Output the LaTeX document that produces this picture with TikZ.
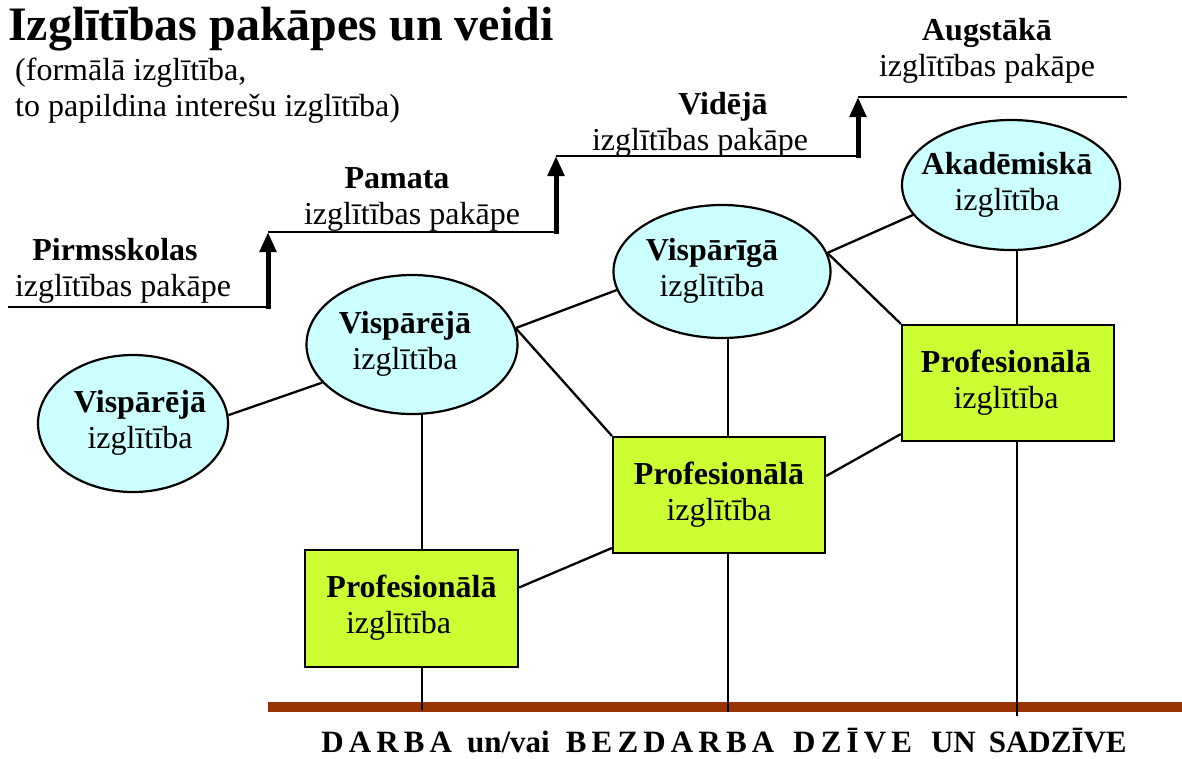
\documentclass[tikz,border=0pt]{standalone}
\usepackage{fontspec}
\setmainfont{Liberation Serif}
\usetikzlibrary{arrows.meta,shapes.geometric}
\definecolor{ellfill}{HTML}{CCFFFF}
\definecolor{boxfill}{HTML}{CCFF33}
\definecolor{barbrown}{HTML}{993300}
% #1 horizontal shift (x2), #2 bold line, #3 regular line, #4 extra right space on line 1, #5 extra right space on line 2
\newcommand{\celltext}[5]{\makebox[0pt]{\hspace*{#1}\begin{tabular}{@{}c@{}}\textbf{#2}\hspace*{#4}\\#3\hspace*{#5}\end{tabular}}}
\begin{document}
\begin{tikzpicture}[x=1pt,y=-1pt,
  font=\fontsize{32}{36}\selectfont,
  ell/.style={ellipse, draw, line width=2.2pt, fill=ellfill, inner sep=0pt},
  pbox/.style={rectangle, draw, line width=2.2pt, fill=boxfill, minimum width=213pt, minimum height=117pt, inner sep=0pt},
  link/.style={line width=2.3pt},
  stepline/.style={line width=2.7pt},
  steparrow/.style={line width=5pt, -{Triangle[width=16pt,length=20pt]}},
  steplab/.style={inner sep=0pt, anchor=center},
]
\useasboundingbox (0,0) rectangle (1182,758);

% title
\node[anchor=base west, inner sep=0pt, font=\fontsize{48}{52}\selectfont\bfseries] (title) at (8,40) {Izglītības pakāpes un veidi};
\node[anchor=base west, inner sep=0pt] (subtitle) at (15,80) {\begin{tabular}[t]{@{}l@{}}(formālā izglītība,\\to papildina interešu izglītība)\end{tabular}};

% stairs
\coordinate (a0) at (8,307);
\coordinate (a1) at (268,308.5);
\coordinate (b0) at (268,232);
\coordinate (b1) at (556,232);
\coordinate (b2) at (556,233.5);
\coordinate (c0) at (556,156);
\coordinate (c1) at (858,156);
\coordinate (c2) at (858,157.5);
\coordinate (d0) at (858,97);
\coordinate (d1) at (1127,97);
\draw[stepline] (a0) -- (a0 -| a1);
\draw[steparrow] (a1) -- (b0);
\draw[stepline] (b0) -- (b1);
\draw[steparrow] (b2) -- (c0);
\draw[stepline] (c0) -- (c1);
\draw[steparrow] (c2) -- (d0);
\draw[stepline] (d0) -- (d1);

\node[steplab] (l1) at (123,271) {\celltext{0pt}{Pirmsskolas}{izglītības pakāpe}{16pt}{0pt}};
\node[steplab] (l2) at (412,199) {\celltext{0pt}{Pamata}{izglītības pakāpe}{30pt}{0pt}};
\node[steplab] (l3) at (700,125) {\celltext{0pt}{Vidējā}{izglītības pakāpe}{-46pt}{0pt}};
\node[steplab] (l4) at (987,51) {\celltext{0pt}{Augstākā}{izglītības pakāpe}{0pt}{0pt}};

% ellipses
\node[ell, minimum width=190pt, minimum height=137pt] (e1) at (133,423.5) {\celltext{14pt}{Vispārējā}{izglītība}{0pt}{0pt}};
\node[ell, minimum width=211pt, minimum height=139pt] (e2) at (412,344.5) {\celltext{-14pt}{Vispārējā}{izglītība}{0pt}{0pt}};
\node[ell, minimum width=217pt, minimum height=133pt] (e3) at (722,271.5) {\celltext{-20pt}{Vispārīgā}{izglītība}{0pt}{0pt}};
\node[ell, minimum width=218pt, minimum height=130pt] (e4) at (1011,185) {\celltext{-8pt}{Akadēmiskā}{izglītība}{0pt}{0pt}};

% boxes
\node[pbox] (r1) at (411.5,608.5) {\celltext{0pt}{Profesionālā}{izglītība}{0pt}{26pt}};
\node[pbox, minimum width=212pt, minimum height=116pt] (r2) at (719,495) {\celltext{0pt}{Profesionālā}{izglītība}{0pt}{0pt}};
\node[pbox, minimum width=212pt, minimum height=116pt] (r3) at (1008,383) {\celltext{-4pt}{Profesionālā}{izglītība}{0pt}{0pt}};

% ground bar
\fill[barbrown] (268,702) rectangle (1182,712);
\coordinate (g1) at (422,710);
\coordinate (g2) at (728,712);
\coordinate (g3) at (1017,716);

% connectors
\draw[link] (e1.5) -- (e2.203);
\draw[link] (e2.9) -- (e3.190);
\draw[link] (e2.9) -- (r2.north west);
\draw[link] (e3.10) -- (e4.197);
\draw[link] (e3.10) -- (r3.north west);
\draw[link] (e2.south -| g1) -- (r1.north -| g1);
\draw[link] (e3.south -| g2) -- (r2.north -| g2);
\draw[link] (e4.south -| g3) -- (r3.north -| g3);
\draw[link] ([yshift=21pt]r1.east) -- ([yshift=-53pt]r2.west);
\draw[link] ([yshift=19pt]r2.east) -- ([yshift=-51pt]r3.west);
\draw[link] (r1.south -| g1) -- (g1);
\draw[link] (r2.south -| g2) -- (g2);
\draw[link] (r3.south -| g3) -- (g3);

% bottom caption
\node[anchor=base, inner sep=0pt, font=\fontsize{31}{36}\selectfont\bfseries] (caption) at (724,752)
  {D\,A\,R\,B\,A\hspace{15pt}un/vai\hspace{16pt}B\,E\,Z\,D\,A\,R\,B\,A\hspace{19pt}D\,Z\,Ī\,V\,E\hspace{19pt}UN\hspace{13pt}SADZĪVE};
\end{tikzpicture}
\end{document}
